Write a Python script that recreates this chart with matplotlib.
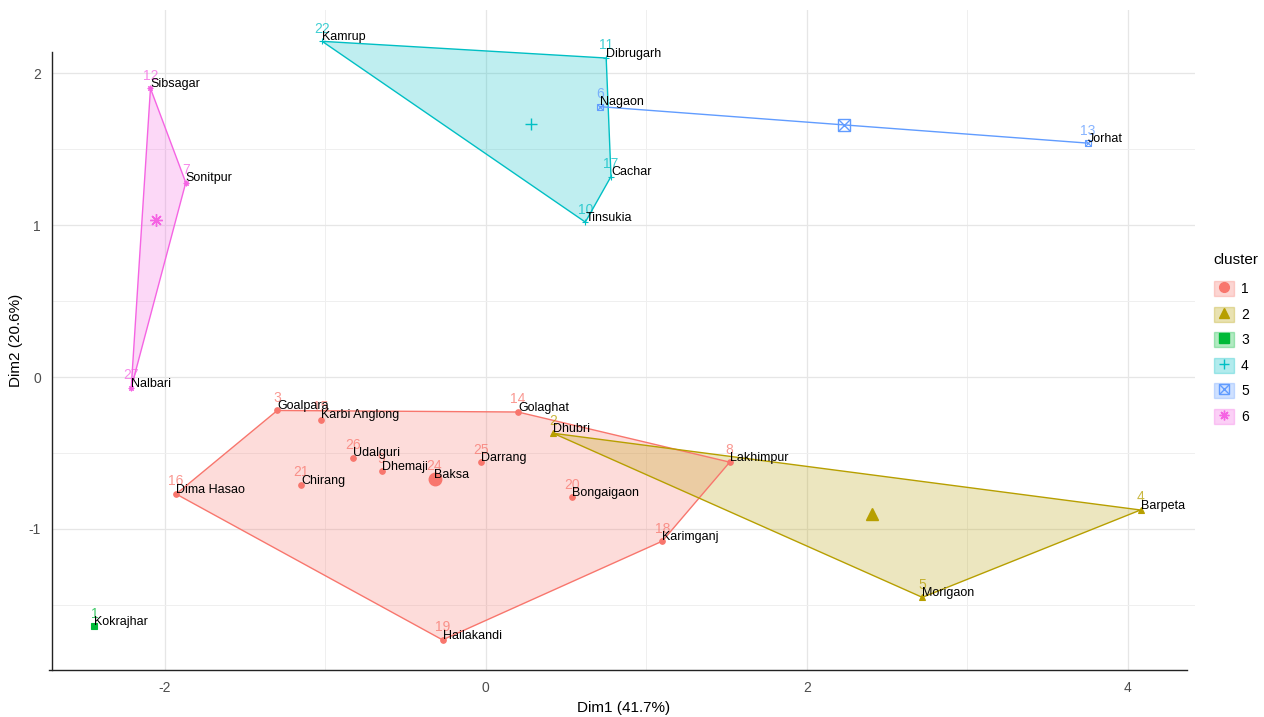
import matplotlib
matplotlib.use('Agg')
import matplotlib.pyplot as plt
from matplotlib.patches import Patch, Polygon
from matplotlib.lines import Line2D
from matplotlib.legend_handler import HandlerTuple
import numpy as np

plt.rcParams['font.family'] = ['Liberation Sans', 'DejaVu Sans']
plt.rcParams['axes.unicode_minus'] = False

# district scores on the first two principal components
districts = ['Kokrajhar', 'Dhubri', 'Goalpara', 'Barpeta', 'Morigaon', 'Nagaon',
             'Sonitpur', 'Lakhimpur', 'Dhemaji', 'Tinsukia', 'Dibrugarh', 'Sibsagar',
             'Jorhat', 'Golaghat', 'Karbi Anglong', 'Dima Hasao', 'Cachar', 'Karimganj',
             'Hailakandi', 'Bongaigaon', 'Chirang', 'Kamrup', 'Baksa', 'Darrang',
             'Udalguri', 'Nalbari']
ids = [1, 2, 3, 4, 5, 6, 7, 8, 9, 10, 11, 12, 13, 14, 15, 16, 17, 18, 19, 20,
       21, 22, 24, 25, 26, 27]
dim1 = [-2.44, 0.42, -1.30, 4.08, 2.72, 0.71, -1.87, 1.52, -0.65, 0.62, 0.75, -2.09,
        3.75, 0.20, -1.03, -1.93, 0.78, 1.10, -0.27, 0.54, -1.15, -1.02, -0.32, -0.03,
        -0.83, -2.21]
dim2 = [-1.64, -0.37, -0.22, -0.875, -1.45, 1.78, 1.28, -0.56, -0.62, 1.02, 2.10, 1.90,
        1.54, -0.23, -0.28, -0.77, 1.32, -1.08, -1.73, -0.79, -0.71, 2.21, -0.67, -0.56,
        -0.53, -0.07]
cluster = [3, 2, 1, 2, 2, 5, 6, 1, 1, 4, 4, 6, 5, 1, 1, 1, 4, 1, 1, 1, 1, 4, 1, 1, 1, 6]

cluster_ids = [1, 2, 3, 4, 5, 6]
colors = ['#F8766D', '#B79F00', '#00BA38', '#00BFC4', '#619CFF', '#F564E3']

dim1 = np.array(dim1)
dim2 = np.array(dim2)
cluster = np.array(cluster)


def convex_hull(pts):
    pts = sorted(set(map(tuple, pts)))
    if len(pts) < 3:
        return pts

    def cross(o, a, b):
        return (a[0] - o[0]) * (b[1] - o[1]) - (a[1] - o[1]) * (b[0] - o[0])

    lower, upper = [], []
    for p in pts:
        while len(lower) >= 2 and cross(lower[-2], lower[-1], p) <= 0:
            lower.pop()
        lower.append(p)
    for p in reversed(pts):
        while len(upper) >= 2 and cross(upper[-2], upper[-1], p) <= 0:
            upper.pop()
        upper.append(p)
    return lower[:-1] + upper[:-1]


def marker_kw(k):
    # ggplot default shapes 16, 17, 15, 3, 7, 8
    return [
        [dict(marker='o')],
        [dict(marker='^')],
        [dict(marker='s')],
        [dict(marker='+')],
        [dict(marker='s', fillstyle='none'), dict(marker='x')],
        [dict(marker=(8, 2, 0))],
    ][k - 1]


def draw_mark(ax, x, y, k, size, lw=0.8):
    col = colors[k - 1]
    for kw in marker_kw(k):
        ax.plot(x, y, linestyle='', color=col, markersize=size,
                markeredgewidth=lw, zorder=4, **kw)


fig = plt.figure(figsize=(12.64, 7.17), dpi=100)
ax = fig.add_axes([0.0411, 0.0656, 0.904, 0.920])

# hulls
for k, col in zip(cluster_ids, colors):
    m = cluster == k
    pts = np.column_stack([dim1[m], dim2[m]])
    hull = convex_hull(pts)
    if len(hull) >= 3:
        ax.add_patch(Polygon(hull, closed=True, facecolor=col, alpha=0.25,
                             edgecolor='none', zorder=1))
        ax.add_patch(Polygon(hull, closed=True, facecolor='none', edgecolor=col,
                             lw=1.0, zorder=2))
    elif len(hull) == 2:
        ax.plot([p[0] for p in hull], [p[1] for p in hull], color=col, lw=1.0, zorder=2)

# points, ids and names
for x, y, k, i, name in zip(dim1, dim2, cluster, ids, districts):
    draw_mark(ax, x, y, k, 4, lw=0.8)
    ax.annotate(str(i), (x, y), xytext=(0, 4), textcoords='offset points',
                ha='center', va='bottom', fontsize=10, color=colors[k - 1],
                alpha=0.75, zorder=5)
    ax.annotate(name, (x, y), xytext=(0, 3), textcoords='offset points',
                ha='left', va='center', fontsize=9, color='black', zorder=6)

# cluster centres
for k in cluster_ids:
    m = cluster == k
    if m.sum() > 1:
        draw_mark(ax, dim1[m].mean(), dim2[m].mean(), k, 9, lw=1.0)

ax.set_xlim(-2.704, 4.417)
ax.set_ylim(-1.928, 2.414)
ax.set_xticks([-2, 0, 2, 4])
ax.set_yticks([-1, 0, 1, 2])
ax.set_xticks([-1, 1, 3], minor=True)
ax.set_yticks([-1.5, -0.5, 0.5, 1.5], minor=True)
ax.grid(True, which='major', color='#E6E6E6', lw=0.9, zorder=0)
ax.grid(True, which='minor', color='#EFEFEF', lw=0.7, zorder=0)
ax.set_axisbelow(True)
ax.tick_params(which='both', length=0, labelsize=10, labelcolor='#4D4D4D', pad=8)

for s in ['top', 'right']:
    ax.spines[s].set_visible(False)
ax.spines['left'].set_bounds(-1.928, 2.14)
ax.spines['bottom'].set_bounds(-2.72, 4.37)
for s in ['left', 'bottom']:
    ax.spines[s].set_color('#222222')
    ax.spines[s].set_linewidth(1.0)

ax.set_xlabel('Dim1 (41.7%)', fontsize=11, labelpad=4)
ax.set_ylabel('Dim2 (20.6%)', fontsize=11, labelpad=4)

# legend: filled key boxes with the cluster shape on top
handles = []
for k, col in zip(cluster_ids, colors):
    box = Patch(facecolor=col, alpha=0.3, edgecolor=col, lw=1.0)
    marks = [Line2D([], [], linestyle='', color=col, markersize=7, markeredgewidth=1.0, **kw)
             for kw in marker_kw(k)]
    handles.append(tuple([box] + marks))
fig.text(1213 / 1264, 1 - 260 / 717, 'cluster', fontsize=11, ha='left', va='center')
fig.legend(handles, [str(k) for k in cluster_ids],
           loc='upper left', bbox_to_anchor=(1214 / 1264, 1 - 281 / 717),
           frameon=False, fontsize=10, borderpad=0, borderaxespad=0,
           handlelength=1.45, handleheight=1.3, labelspacing=0.74,
           handletextpad=0.5, handler_map={tuple: HandlerTuple(ndivide=1, pad=0)})

fig.savefig('out.png', dpi=100)
